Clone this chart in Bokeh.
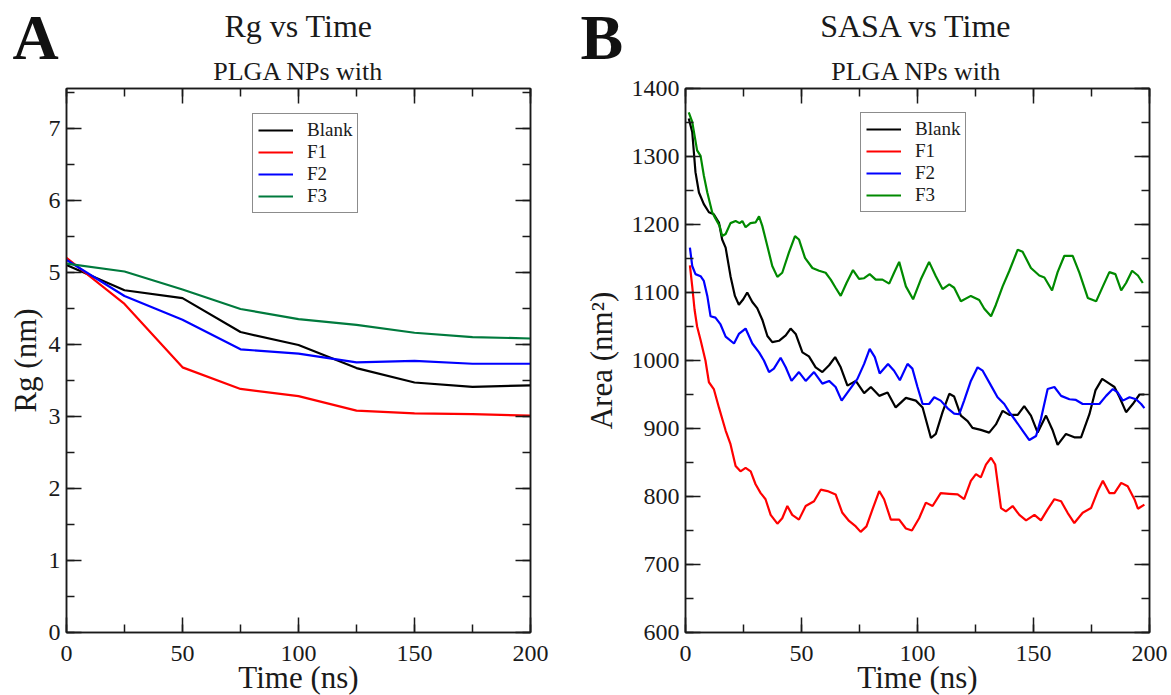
from bokeh.plotting import figure
from bokeh.models import (Range1d, LinearAxis, SingleIntervalTicker, Label,
                          CustomJSTickFormatter)
from bokeh.layouts import row, column
from bokeh.embed import file_html
from bokeh.resources import INLINE

# ---------------- Panel A: Rg vs Time ----------------
rg_time = [0, 25, 50, 75, 100, 125, 150, 175, 200]
rg_blank = [5.10, 4.75, 4.64, 4.17, 3.99, 3.67, 3.47, 3.41, 3.43]
rg_f1 = [5.20, 4.56, 3.68, 3.38, 3.28, 3.08, 3.04, 3.03, 3.01]
rg_f2 = [5.17, 4.67, 4.34, 3.93, 3.87, 3.75, 3.77, 3.73, 3.73]
rg_f3 = [5.12, 5.01, 4.76, 4.49, 4.35, 4.27, 4.16, 4.10, 4.08]

# ---------------- Panel B: SASA vs Time ----------------
sasa_blank_t = [1.4, 2.9, 4.3, 5.8, 7.9, 10.1, 12.2, 14.4, 15.8, 17.3, 19.4, 21.3, 23.0, 24.9, 26.6,
                28.8, 30.9, 33.1, 35.3, 37.4, 40.3, 43.2, 45.3, 47.5, 50.4, 53.2, 56.1, 59.0, 61.9,
                64.5, 66.9, 69.8, 73.4, 77.0, 79.9, 83.5, 87.1, 90.6, 95.0, 99.3, 102.2, 105.8,
                107.9, 110.8, 113.7, 115.8, 118.7, 121.6, 123.7, 127.3, 130.9, 133.8, 136.7, 139.6,
                143.2, 146.0, 148.9, 151.8, 155.4, 158.3, 160.4, 164.0, 167.6, 170.5, 174.1, 176.7,
                179.6, 182.7, 184.9, 187.1, 189.9, 192.8, 195.7, 197.8]
sasa_blank = [1356, 1336, 1277, 1247, 1230, 1218, 1215, 1203, 1178, 1166, 1124, 1095, 1082, 1090, 1100,
              1086, 1077, 1060, 1036, 1027, 1029, 1037, 1047, 1039, 1012, 1006, 990, 983, 993,
              1005, 990, 963, 970, 952, 961, 948, 953, 931, 945, 941, 931, 886,
              892, 924, 951, 947, 919, 911, 901, 898, 894, 906, 926, 920,
              920, 933, 919, 894, 919, 897, 876, 892, 887, 887, 921, 956,
              973, 966, 961, 946, 924, 936, 950, 950]

sasa_f1_t = [1.9, 2.9, 3.9, 5.0, 6.5, 8.6, 10.1, 12.2, 14.4, 17.3, 19.4, 21.6, 23.7, 25.9, 28.1,
             30.2, 32.4, 34.5, 36.7, 39.6, 41.7, 43.9, 46.0, 48.9, 51.8, 55.4, 58.3, 61.2, 64.7,
             67.6, 70.5, 73.4, 75.5, 78.0, 80.6, 83.5, 85.6, 88.5, 92.1, 95.0, 97.6, 100.7,
             103.6, 106.5, 110.0, 113.7, 117.3, 120.1, 123.0, 125.2, 127.3, 129.5, 131.7, 133.5,
             136.0, 138.1, 141.0, 143.9, 146.8, 150.4, 153.2, 156.1, 159.0, 161.9, 164.7, 167.6,
             171.2, 174.8, 177.7, 179.9, 182.7, 184.9, 187.8, 190.6, 193.5, 195.0, 197.8]
sasa_f1 = [1140, 1109, 1075, 1050, 1030, 1000, 968, 958, 931, 897, 877, 845, 837, 842, 837,
           818, 805, 796, 773, 760, 768, 786, 773, 766, 786, 793, 810, 808, 803,
           776, 764, 756, 748, 756, 781, 808, 796, 766, 766, 753, 750, 768,
           791, 786, 805, 804, 803, 796, 823, 833, 828, 847, 857, 847,
           783, 778, 786, 773, 765, 773, 765, 781, 796, 793, 776, 761,
           776, 783, 808, 823, 805, 805, 820, 815, 796, 782, 788]

sasa_f2_t = [1.9, 2.9, 4.3, 6.5, 7.9, 9.4, 10.8, 12.9, 15.1, 17.3, 20.9, 23.0, 25.9, 28.8, 31.7,
             33.8, 36.0, 38.1, 41.0, 43.2, 45.7, 48.9, 51.8, 55.4, 59.0, 61.9, 64.7, 67.3, 70.5,
             74.1, 77.0, 79.4, 81.6, 83.7, 87.3, 89.9, 92.4, 95.7, 97.8, 100.0, 102.2, 105.0,
             107.2, 110.0, 112.9, 115.8, 118.0, 120.1, 123.0, 125.9, 128.1, 131.7, 134.5, 137.4,
             139.6, 142.4, 145.3, 148.2, 151.1, 153.2, 156.1, 159.0, 161.9, 165.5, 168.3, 171.2,
             174.8, 178.4, 181.3, 184.2, 186.3, 188.5, 191.4, 194.2, 196.4, 197.8]
sasa_f2 = [1166, 1139, 1127, 1124, 1117, 1095, 1065, 1063, 1053, 1035, 1025, 1039, 1047, 1025, 1012,
           1000, 983, 988, 1004, 990, 970, 983, 970, 983, 966, 970, 961, 941, 956,
           973, 995, 1017, 1005, 981, 995, 985, 971, 995, 988, 961, 936, 936,
           946, 941, 930, 922, 921, 941, 970, 990, 985, 963, 946, 936,
           924, 911, 897, 883, 889, 914, 958, 961, 948, 943, 942, 936,
           936, 936, 948, 958, 953, 941, 946, 943, 936, 930]

sasa_f3_t = [1.4, 2.9, 5.0, 6.5, 7.9, 9.4, 11.5, 12.9, 14.7, 15.8, 17.3, 19.4, 21.6, 23.3, 24.5,
             25.9, 28.0, 30.2, 31.7, 33.1, 35.3, 37.4, 39.6, 41.7, 44.6, 47.2, 48.9, 51.5, 54.7,
             57.6, 60.4, 62.6, 64.7, 66.9, 69.4, 72.2, 74.8, 77.0, 79.4, 82.0, 84.9, 87.8,
             89.9, 92.1, 95.0, 98.1, 101.4, 105.0, 107.9, 110.8, 113.7, 115.8, 118.7, 123.0,
             126.6, 128.8, 131.7, 133.8, 136.7, 139.6, 143.2, 145.3, 148.9, 152.5, 154.7, 158.0,
             160.4, 163.3, 166.9, 169.8, 173.4, 177.0, 179.9, 182.7, 185.3, 187.8, 189.9, 192.5,
             195.0, 197.1]
sasa_f3 = [1365, 1351, 1309, 1301, 1272, 1247, 1218, 1209, 1198, 1183, 1186, 1202, 1205, 1202, 1205,
           1196, 1202, 1203, 1212, 1198, 1168, 1139, 1123, 1129, 1159, 1183, 1178, 1151, 1136,
           1132, 1129, 1119, 1107, 1095, 1114, 1133, 1120, 1121, 1127, 1119, 1119, 1113,
           1129, 1145, 1109, 1090, 1119, 1145, 1124, 1105, 1112, 1107, 1087, 1095,
           1089, 1076, 1065, 1082, 1109, 1132, 1163, 1160, 1136, 1125, 1122, 1103,
           1130, 1154, 1154, 1129, 1092, 1087, 1109, 1130, 1127, 1103, 1114, 1132,
           1125, 1114]

series_names = ["Blank", "F1", "F2", "F3"]
series_colors = ["#000000", "#ff0000", "#0000ff", "#007a3d"]
series_colors_b = ["#000000", "#ff0000", "#0000ff", "#008a00"]

FONT = "Liberation Serif"
INK = "#1a1a1a"
HEAD_H = 88
TOTAL_W = 1171
OVERLAP = 16


def header():
    h = figure(width=TOTAL_W, height=HEAD_H, x_range=Range1d(0, TOTAL_W),
               y_range=Range1d(HEAD_H, 0),
               output_backend="svg", toolbar_location=None, min_border=0,
               x_axis_type=None, y_axis_type=None, outline_line_color=None,
               background_fill_color="white", border_fill_color="white")
    h.grid.visible = False
    # (text, x, y, size, bold, align)  -- header texts, positioned in page pixels
    items = [("A", 12, 1, "64px", True, "left"),
             ("Rg vs Time", 298, 7, "32px", False, "center"),
             ("PLGA NPs with", 298, 56, "26px", False, "center"),
             ("B", 580, 1, "64px", True, "left"),
             ("SASA vs Time", 916, 7, "32px", False, "center"),
             ("PLGA NPs with", 916, 56, "26px", False, "center")]
    for text, x, y, size, bold, align in items:
        h.add_layout(Label(x=x, y=y, text=text, text_font=FONT, text_font_size=size,
                           text_font_style="bold" if bold else "normal",
                           text_color="#111111" if bold else INK,
                           text_align=align, text_baseline="top"))
    return h


def make_fig(xr, yr, xint, yint, left, right, ylabel, ylab_standoff):
    p = figure(frame_width=464, frame_height=544,
               x_range=Range1d(*xr), y_range=Range1d(*yr),
               output_backend="svg", toolbar_location=None,
               min_border_left=left, min_border_right=right,
               min_border_top=OVERLAP, min_border_bottom=63,
               margin=(-OVERLAP, 0, 0, 0),
               background_fill_color="white", border_fill_alpha=0.0)
    p.grid.visible = False
    p.outline_line_color = INK
    p.outline_line_width = 1.5
    xt = SingleIntervalTicker(interval=xint, num_minor_ticks=2)
    yt = SingleIntervalTicker(interval=yint, num_minor_ticks=2)
    bottom = p.below[0]
    left_ax = p.left[0]
    bottom.ticker = xt
    left_ax.ticker = yt
    bottom.axis_label = "Time (ns)"
    left_ax.axis_label = ylabel
    top = LinearAxis(ticker=xt, formatter=CustomJSTickFormatter(code="return ''"))
    rgt = LinearAxis(ticker=yt, formatter=CustomJSTickFormatter(code="return ''"))
    p.add_layout(top, "above")
    p.add_layout(rgt, "right")
    for ax in (bottom, left_ax, top, rgt):
        ax.major_tick_in = 15
        ax.major_tick_out = 0
        ax.minor_tick_in = 8
        ax.minor_tick_out = 0
        ax.axis_line_color = INK
        ax.axis_line_width = 1.5
        ax.major_tick_line_color = INK
        ax.major_tick_line_width = 1.5
        ax.minor_tick_line_color = INK
        ax.minor_tick_line_width = 1.5
        ax.major_label_text_font = FONT
        ax.major_label_text_font_size = "24px"
        ax.major_label_text_color = INK
        ax.axis_label_text_font = FONT
        ax.axis_label_text_font_size = "31px"
        ax.axis_label_text_font_style = "normal"
        ax.axis_label_text_color = INK
    top.major_label_standoff = 0
    rgt.major_label_standoff = 0
    bottom.major_label_standoff = 13
    bottom.axis_label_standoff = -4
    left_ax.major_label_standoff = 6
    left_ax.axis_label_standoff = ylab_standoff
    return p


p1 = make_fig((0, 200), (0, 7.55), 50, 1, 66, 50, "Rg (nm)", 3)
for name, col, ys in zip(series_names, series_colors, [rg_blank, rg_f1, rg_f2, rg_f3]):
    p1.line(rg_time, ys, line_color=col, line_width=2.2, legend_label=name)

p2 = make_fig((0, 200), (600, 1400), 50, 100, 103, 24, "Area (nm\u00b2)", 10)
for name, col, ts, ys in zip(series_names, series_colors_b,
                             [sasa_blank_t, sasa_f1_t, sasa_f2_t, sasa_f3_t],
                             [sasa_blank, sasa_f1, sasa_f2, sasa_f3]):
    p2.line(ts, ys, line_color=col, line_width=2.2, legend_label=name)

for p, loc in ((p1, (186, 419)), (p2, (175, 420))):
    lg = p.legend[0]
    lg.location = loc
    lg.border_line_color = INK
    lg.border_line_width = 1.5
    lg.label_text_font = FONT
    lg.label_text_font_size = "19px"
    lg.label_text_color = INK
    lg.glyph_width = 35
    lg.glyph_height = 20
    lg.label_height = 20
    lg.label_standoff = 14
    lg.spacing = 0
    lg.padding = 5
    lg.margin = 0
    lg.background_fill_color = "white"
    lg.background_fill_alpha = 1.0

layout = column(header(), row(p1, p2, spacing=0), spacing=0)
open("out.html", "w").write(file_html(layout, INLINE))
